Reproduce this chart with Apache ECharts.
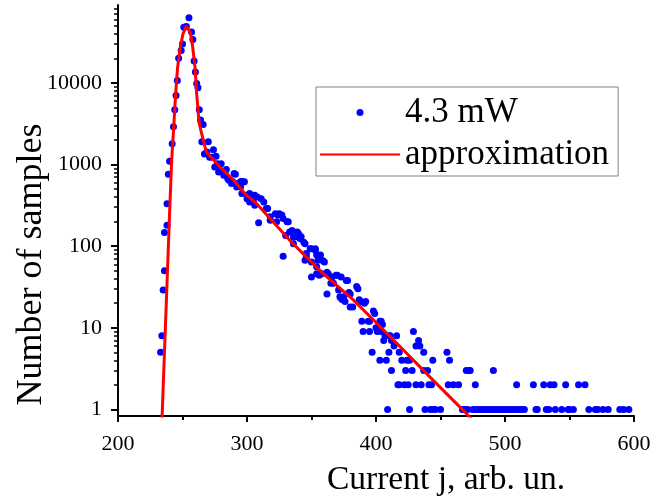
<!DOCTYPE html>
<html><head><meta charset="utf-8">
<script src="https://cdn.jsdelivr.net/npm/echarts@6/dist/echarts.min.js"></script>
<style>html,body{margin:0;padding:0;background:#fff}#c{width:665px;height:500px}</style>
</head><body><div id="c"></div>
<script>
const seriesNames = ['4.3 mW', 'approximation'];
const xAxisTitle = 'Current j, arb. un.';
const yAxisTitle = 'Number of samples';

// measured histogram points (current j, number of samples)
const measuredX = [233,234,235,236,236,238,238,239,240,242,243,244,245,246,247,249,250,251,253,255,257,258,259,260,261,262,263,264,265,266,267,269,270,271,273,274,275,276,277,278,279,280,282,283,284,285,286,288,289,290,291,292,293,295,295,296,296,297,298,300,300,302,302,304,305,306,306,308,309,311,313,315,316,318,318,322,323,324,325,327,328,328,330,331,332,333,335,336,336,337,339,340,341,342,344,345,345,346,346,349,350,350,350,353,353,354,354,354,355,356,357,358,359,360,362,362,363,365,366,367,369,370,371,372,373,373,374,375,376,377,378,379,380,380,382,385,386,387,388,389,390,391,392,394,395,395,397,398,399,400,401,403,403,404,405,404,406,407,408,409,410,410,411,412,412,414,416,417,418,418,420,422,423,424,425,426,426,428,429,431,431,433,434,435,437,437,438,440,441,442,443,444,444,446,450,455,456,457,460,464,467,469,470,471,472,473,475,477,477,479,481,483,485,487,489,491,491,493,495,497,499,501,503,505,507,509,509,511,513,515,522,524,525,530,532,534,535,538,539,544,547,549,550,553,557,562,565,570,572,576,580,589,592,596,600];
const measuredY = [5,8,29,50,147,180,330,760,1100,1800,2900,4700,7000,10700,20000,25000,30000,48000,49000,63000,42000,34000,18500,13600,9800,8700,4700,3500,1900,3100,1350,1420,1900,1230,1230,1520,930,1260,1020,810,850,1020,740,775,870,675,640,585,615,775,760,530,585,530,615,620,440,610,615,380,420,440,347,420,347,420,316,400,193,380,347,290,290,208,229,250,199,240,250,240,218,75,135,199,199,149,156,107,129,129,149,142,124,130,112,107,67,81,74,93,93,64,42,93,89,56,46,78,67,44,78,46,66,64,26,48,46,35,42,35,44,44,29,24,23,42,22,24,21,38,38,27,18,26,18,32,30,22,21,12,9,20,21,12,12,9,5,16,15,10,9,12,4,12,11,9,7,8,4,1,5,8,8,7,3,6,8,2,5,2,4,2,3,4,2,4,1,3,9,2,6,7,6,2,5,3,1,3,2,1,2,4,1,1,1,5,2,4,2,2,1,1,3,1,3,3,1,2,1,1,1,1,1,1,1,3,1,1,1,1,1,1,1,1,1,2,1,1,1,1,2,1,1,2,1,1,2,2,1,1,2,1,1,1,2,2,1,1,1,1,1,1,1,1];

// fitted approximation curve
const approxX = [234,236,238,240,241.6,243.2,244.7,246.2,248.3,250.4,253.2,256.3,257.9,259.7,261.0,262.8,264.8,266.8,268.7,279.1,289.4,298.4,307.5,333.3,359.1,382.4,410,444,468,478];
const approxY = [0.68,4.9,35,257,1120,2880,7400,15500,27500,40000,50000,40000,27500,15500,7400,3300,2400,1800,1400,930,650,440,330,117,46,22,8.1,2.3,0.96,0.65];

const yMajorTicks = [1,10,100,1000,10000];
const yMinorTicks = [2,3,4,5,6,7,8,9,20,30,40,50,60,70,80,90,200,300,400,500,600,700,800,900,2000,3000,4000,5000,6000,7000,8000,9000,20000,30000,40000,50000,60000,70000,80000];
const xMin = 200, xMax = 600, xStep = 100;
const yMin = 0.83, yMax = 90000;

const FONT = 'Liberation Serif';
const scatterData = measuredX.map((x, i) => [x, measuredY[i]]);
const lineData = approxX.map((x, i) => [x, approxY[i]]);

const gridRect = {left: 118, right: 31, top: 5, bottom: 84, outerBoundsMode: 'none', containLabel: false};
const chart = echarts.init(document.getElementById('c'), null, {renderer: 'canvas'});
chart.setOption({
  animation: false,
  backgroundColor: '#fff',
  grid: [Object.assign({}, gridRect), Object.assign({}, gridRect)],
  legend: {
    orient: 'vertical', left: 316, top: 87,
    padding: [8, 9, 4, 3],
    itemWidth: 80, itemHeight: 7, itemGap: 7,
    borderColor: '#808080', borderWidth: 1,
    textStyle: {fontFamily: FONT, fontSize: 35, color: '#000'},
    data: [
      {name: seriesNames[0]},
      {name: seriesNames[1], itemStyle: {color: 'rgba(0,0,0,0)', borderWidth: 0, opacity: 0}}
    ]
  },
  xAxis: [{
    type: 'value', gridIndex: 0, min: xMin, max: xMax, interval: xStep,
    name: xAxisTitle, nameLocation: 'middle', nameGap: 47, nameMoveOverlap: false,
    nameTextStyle: {fontFamily: FONT, fontSize: 33.5, color: '#000', padding: [0, 0, 0, 140]},
    axisLine: {lineStyle: {color: '#000', width: 2}},
    axisTick: {show: true, inside: false, length: 6, lineStyle: {color: '#000', width: 2}},
    minorTick: {show: true, splitNumber: 2, length: 4, lineStyle: {color: '#000', width: 2}},
    axisLabel: {fontFamily: FONT, fontSize: 22, color: '#000', margin: 17},
    splitLine: {show: false}
  }, {
    type: 'value', gridIndex: 1, min: xMin, max: xMax, show: false
  }],
  yAxis: [{
    type: 'log', gridIndex: 0, min: yMin, max: yMax, logBase: 10,
    name: yAxisTitle, nameLocation: 'middle', nameRotate: 90, nameGap: 68, nameMoveOverlap: false,
    nameTextStyle: {fontFamily: FONT, fontSize: 36, color: '#000', padding: [0, 108, 0, 0]},
    axisLine: {lineStyle: {color: '#000', width: 2}},
    axisTick: {show: true, inside: false, length: 7, customValues: yMajorTicks, lineStyle: {color: '#000', width: 2}},
    axisLabel: {fontFamily: FONT, fontSize: 22, color: '#000', margin: 16, customValues: yMajorTicks,
      formatter: v => String(Math.round(v))},
    splitLine: {show: false}
  }, {
    type: 'log', gridIndex: 1, min: yMin, max: yMax, logBase: 10,
    axisLine: {show: false},
    axisTick: {show: true, inside: false, length: 4, customValues: yMinorTicks, lineStyle: {color: '#000', width: 1.5}},
    axisLabel: {show: false},
    splitLine: {show: false}
  }],
  series: [{
    name: seriesNames[0], type: 'scatter', xAxisIndex: 0, yAxisIndex: 0,
    data: scatterData, symbol: 'circle', symbolSize: 7,
    itemStyle: {color: '#0000ff', opacity: 1}
  }, {
    name: seriesNames[1], type: 'line', xAxisIndex: 0, yAxisIndex: 0,
    data: lineData, symbol: 'none', smooth: false,
    lineStyle: {color: '#ff0000', width: 3}, itemStyle: {color: '#ff0000'}
  }]
});
</script></body></html>
